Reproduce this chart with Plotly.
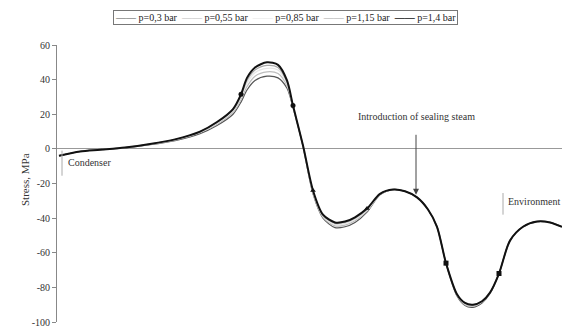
import plotly.graph_objects as go

# positions along the seal (arbitrary units, left = condenser side)
position = [2, 23, 43, 68, 93, 118, 143, 160, 176, 184, 190, 198, 210, 221, 230, 236, 246, 256, 266,
            278, 288, 298, 310, 323, 336, 348, 360, 371, 380, 389, 400, 408, 416, 425, 433, 442, 453,
            466, 480, 493, 505]

stress_p03 = [-4, -1.5, -0.5, 0.6, 2.4, 4.8, 8.8, 13.5, 20, 27, 34, 39.5, 42, 41, 35, 24, 1.5, -26, -40,
              -45.5, -45, -42.5, -36.5, -26.5, -23.5, -24.5, -28, -35, -45, -66, -85, -90.5, -91.5, -89,
              -83.5, -72, -53, -45, -42, -42.5, -45]
stress_p055 = [-4, -1.5, -0.5, 0.7, 2.6, 5.1, 9.3, 14.2, 21, 28.5, 36, 42, 44.5, 43.5, 36.5, 24.3, 1.6,
               -25.5, -39.5, -44.5, -44, -41.5, -36, -26.3, -23.5, -24.5, -28, -35, -45, -66, -84.5,
               -90, -91, -88.5, -83.3, -72, -53, -45, -42, -42.5, -45]
stress_p085 = [-4, -1.5, -0.5, 0.7, 2.7, 5.3, 9.6, 14.8, 22, 29.8, 38, 44, 46.5, 45.5, 37.5, 24.6, 1.8,
               -25, -39, -43.8, -43.2, -40.8, -35.5, -26.2, -23.5, -24.5, -28, -35, -45, -66, -84.3,
               -89.5, -90.5, -88.3, -83.2, -72, -53, -45, -42, -42.5, -45]
stress_p115 = [-4, -1.5, -0.5, 0.8, 2.8, 5.4, 9.8, 15.2, 22.5, 30.6, 39.5, 45.5, 48.2, 47, 38.5, 24.8,
               1.9, -24.5, -38.5, -43, -42.5, -40, -35, -26.1, -23.5, -24.5, -28, -35, -45, -66,
               -84.1, -89.2, -90.2, -88.1, -83.1, -72, -53, -45, -42, -42.5, -45]
stress_p14 = [-4, -1.5, -0.5, 0.8, 2.8, 5.5, 10, 15.5, 23, 31.5, 41, 47, 50, 48.5, 39.5, 25, 2, -24,
              -38, -42.5, -42, -39.5, -34.5, -26, -23.5, -24.5, -28, -35, -45, -66, -84, -89, -90, -88,
              -83, -72, -53, -45, -42, -42.5, -45]

series_names = ["p=0,3 bar", "p=0,55 bar", "p=0,85 bar", "p=1,15 bar", "p=1,4 bar"]
series_values = [stress_p03, stress_p055, stress_p085, stress_p115, stress_p14]
series_colors = ["#555555", "#bdbdbd", "#e6e6e6", "#a8a8a8", "#111111"]
series_widths = [1.2, 1.2, 1.2, 1.2, 2]

# highlighted points on the p=1,4 bar curve
marker_pos = [184, 236, 256, 310, 389, 442]
marker_val = [31.5, 25, -24, -34.5, -66, -72]
marker_sym = ["circle", "circle", "triangle-up", "triangle-up", "square", "square"]

y_ticks = [60, 40, 20, 0, -20, -40, -60, -80, -100]
y_tick_labels = ["60", "40", "20", "0", "-20", "-40", "-60", "-80", "-100"]

serif = "Liberation Serif, Times New Roman, serif"

fig = go.Figure()
for name, vals, col, w in zip(series_names, series_values, series_colors, series_widths):
    fig.add_trace(go.Scatter(x=position, y=vals, mode="lines", name=name,
                             line=dict(color=col, width=w, shape="spline", smoothing=0.8)))

fig.add_trace(go.Scatter(x=marker_pos, y=marker_val, mode="markers", showlegend=False,
                         marker=dict(color="#111111", size=5, symbol=marker_sym)))

fig.update_layout(
    width=562, height=329,
    margin=dict(l=57, r=0, t=45, b=7, autoexpand=False),
    paper_bgcolor="white", plot_bgcolor="white",
    font=dict(family=serif, size=9, color="#333333"),
    showlegend=False,
    xaxis=dict(range=[0, 505], showgrid=False, zeroline=False, showline=False,
               showticklabels=False, ticks=""),
    yaxis=dict(range=[-100, 60], tickvals=y_ticks, ticktext=y_tick_labels, showgrid=False,
               zeroline=True, zerolinecolor="#999999", zerolinewidth=1,
               showline=True, linecolor="#888888", linewidth=1,
               ticks="outside", ticklen=4, tickcolor="#888888",
               tickfont=dict(family=serif, size=10, color="#333333")),
)

# compact legend box (line key + series name for each series)
legend_parts = []
for name, col, w in zip(series_names, series_colors, series_widths):
    key = "——" if w < 2 else "<b>——</b>"
    legend_parts.append(f"<span style='color:{col}'>{key}</span> {name}")
legend_text = "  ".join(legend_parts)
fig.add_annotation(xref="paper", yref="paper", x=0.453, y=1.101, xanchor="center", yanchor="middle",
                   text=legend_text, showarrow=False, bordercolor="#777777", borderwidth=1,
                   borderpad=1, bgcolor="white",
                   font=dict(family=serif, size=10, color="#222222"))

# annotations
fig.add_annotation(xref="paper", yref="paper", x=-0.079, y=0.513, text="Stress, MPa", textangle=-90,
                   showarrow=False, font=dict(family=serif, size=11, color="#333333"))
fig.add_annotation(x=9, y=-8, xanchor="left", text="Condenser", showarrow=False,
                   font=dict(family=serif, size=10, color="#333333"))
fig.add_annotation(x=449, y=-30.5, xanchor="left", text="Environment", showarrow=False,
                   font=dict(family=serif, size=10, color="#333333"))
fig.add_annotation(x=299, y=18.5, xanchor="left", text="Introduction of sealing steam",
                   showarrow=False, font=dict(family=serif, size=10, color="#333333"))
fig.add_annotation(x=359, y=-26.5, ax=359, ay=9, axref="x", ayref="y", text="",
                   showarrow=True, arrowhead=2, arrowsize=1.2, arrowwidth=1, arrowcolor="#444444")

fig.add_shape(type="line", x0=5, x1=5, y0=-1, y1=-15.5, line=dict(color="#aaaaaa", width=1))
fig.add_shape(type="line", x0=446, x1=446, y0=-25.5, y1=-38, line=dict(color="#aaaaaa", width=1))

fig.write_html("out.html", post_script="document.body.style.margin='0';",
               config={"displayModeBar": False})
